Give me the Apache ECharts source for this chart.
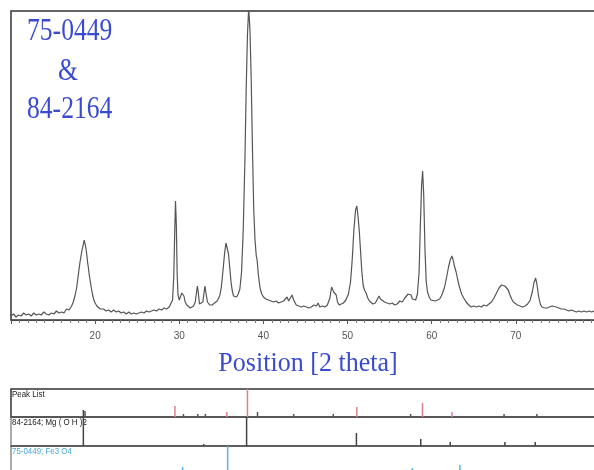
<!DOCTYPE html>
<html>
<head>
<meta charset="utf-8">
<script src="https://cdn.jsdelivr.net/npm/echarts@6/dist/echarts.min.js"></script>
<style>
  html, body { margin: 0; padding: 0; background: #fff; }
  #chart { width: 594px; height: 470px; }
</style>
</head>
<body>
<div id="chart"></div>
<script>
const pos2Theta = [
  10.0, 10.3, 10.6, 10.9, 11.2, 11.5, 11.8, 12.1, 12.4, 12.7, 13.0, 13.3, 13.6, 13.9, 14.2, 14.5, 14.8, 15.1, 15.4, 15.7,
  16.0, 16.3, 16.6, 16.9, 17.2, 17.4, 17.6, 17.8, 18.0, 18.2, 18.4, 18.55, 18.7, 18.8, 18.9, 19.0, 19.1, 19.2, 19.3, 19.4,
  19.55, 19.7, 19.85, 20.0, 20.2, 20.4, 20.6, 20.8, 21.0, 21.3, 21.6, 21.9, 22.2, 22.5, 22.8, 23.1, 23.4, 23.7, 24.0, 24.3,
  24.6, 24.9, 25.2, 25.5, 25.8, 26.1, 26.4, 26.7, 27.0, 27.3, 27.6, 27.9, 28.2, 28.5, 28.8, 29.0, 29.2, 29.35, 29.45, 29.55,
  29.65, 29.75, 29.85, 30.0, 30.15, 30.3, 30.4, 30.55, 30.7, 30.9, 31.1, 31.3, 31.5, 31.7, 31.9, 32.05, 32.15, 32.25, 32.4, 32.6,
  32.8, 32.95, 33.05, 33.15, 33.35, 33.6, 33.9, 34.2, 34.5, 34.8, 35.0, 35.2, 35.4, 35.55, 35.7, 35.85, 36.0, 36.15, 36.3, 36.45,
  36.6, 36.8, 37.0, 37.2, 37.4, 37.6, 37.8, 37.95, 38.1, 38.25, 38.4, 38.55, 38.7, 38.85, 39.0, 39.15, 39.25, 39.4, 39.6, 39.8,
  40.0, 40.3, 40.6, 40.9, 41.2, 41.5, 41.8, 42.1, 42.4, 42.6, 42.8, 43.0, 43.2, 43.4, 43.6, 43.9, 44.2, 44.5, 44.8, 45.1,
  45.4, 45.7, 46.0, 46.15, 46.3, 46.5, 46.7, 47.0, 47.3, 47.6, 47.9, 48.1, 48.2, 48.35, 48.5, 48.65, 48.8, 49.0, 49.2, 49.5,
  49.8, 50.1, 50.35, 50.55, 50.75, 50.95, 51.1, 51.25, 51.4, 51.55, 51.7, 51.85, 52.0, 52.2, 52.4, 52.6, 52.8, 53.0, 53.3, 53.55,
  53.75, 53.9, 54.1, 54.4, 54.7, 55.0, 55.3, 55.6, 55.9, 56.2, 56.5, 56.8, 57.0, 57.2, 57.4, 57.55, 57.7, 57.9, 58.1, 58.3,
  58.5, 58.65, 58.8, 58.92, 59.05, 59.2, 59.35, 59.5, 59.7, 59.9, 60.1, 60.4, 60.7, 60.95, 61.2, 61.5, 61.75, 62.0, 62.2, 62.4,
  62.55, 62.7, 62.9, 63.1, 63.3, 63.55, 63.8, 64.1, 64.4, 64.7, 65.0, 65.3, 65.6, 65.9, 66.2, 66.5, 66.8, 67.1, 67.4, 67.7,
  68.0, 68.3, 68.5, 68.7, 68.9, 69.1, 69.3, 69.5, 69.7, 69.9, 70.2, 70.5, 70.8, 71.1, 71.4, 71.7, 71.95, 72.15, 72.35, 72.5,
  72.7, 72.9, 73.1, 73.4, 73.7, 74.0, 74.3, 74.5, 74.8, 75.1, 75.4, 75.7, 76.0, 76.3, 76.6, 76.9, 77.2, 77.5, 77.8, 78.1,
  78.4, 78.7, 79.0, 79.3, 79.6, 79.9
];
const counts = [
  4, 6, 3, 5, 4, 7, 5, 6, 4, 7, 5, 6, 5, 8, 6, 5, 7, 6, 9, 7,
  8, 7, 11, 10, 14, 18, 24, 32, 45, 58, 68, 74, 80, 76, 72, 66, 58, 52, 45, 40,
  32, 25, 20, 17, 14, 12, 11, 9, 11, 9, 10, 8, 10, 8, 9, 7, 8, 6, 8, 6,
  7, 6, 7, 8, 7, 9, 8, 9, 10, 9, 11, 10, 12, 11, 13, 14, 20, 45, 85, 119,
  95, 45, 25, 20, 22, 27, 29, 24, 18, 15, 13, 12, 12, 14, 18, 28, 34, 28, 16, 14,
  18, 28, 34, 28, 18, 15, 15, 17, 19, 24, 33, 50, 68, 77, 75, 66, 52, 38, 29, 24,
  22, 23, 26, 31, 48, 90, 160, 230, 285, 312, 290, 240, 170, 110, 80, 64, 60, 45, 32, 26,
  23, 21, 20, 19, 18, 19, 17, 18, 19, 21, 23, 19, 22, 25, 20, 15, 14, 13, 14, 13,
  12, 13, 15, 17, 14, 17, 13, 14, 13, 15, 22, 33, 35, 28, 27, 25, 18, 15, 16, 17,
  20, 26, 38, 60, 90, 110, 114, 103, 88, 68, 48, 35, 30, 27, 22, 19, 17, 16, 17, 21,
  24, 21, 19, 18, 17, 16, 17, 15, 16, 19, 18, 22, 24, 26, 28, 25, 21, 19, 20, 26,
  48, 95, 135, 149, 125, 70, 38, 28, 23, 20, 18, 19, 20, 21, 25, 32, 42, 53, 60, 64,
  60, 54, 48, 40, 33, 26, 22, 18, 15, 13, 14, 13, 14, 13, 15, 14, 16, 18, 22, 27,
  32, 35, 36, 34, 33, 30, 25, 21, 18, 16, 15, 14, 13, 14, 16, 20, 28, 37, 42, 36,
  24, 16, 13, 12, 12, 13, 14, 15, 13, 12, 11, 11, 10, 9, 10, 9, 8, 9, 8, 9,
  8, 9, 8, 9, 8, 9
];

// peak list (row 1)
const peakPos = [29.58, 35.75, 38.2, 51.2, 59.0, 62.5];
const peakHeight = [11, 5, 28, 10, 14, 5];
const minorPeakPos = [18.7, 30.4, 32.1, 33.0, 39.2, 43.5, 48.2, 57.4, 68.5, 72.4];
const minorPeakHeight = [6, 3, 3, 3, 5, 3, 3, 3, 3, 3];

// 84-2164 Mg(OH)2 reference (row 2)
const mgPos = [18.6, 32.9, 38.0, 51.05, 58.7, 62.2, 68.7, 72.3];
const mgHeight = [36, 2, 29, 13, 7, 4, 4, 4];

// 75-0449 Fe3O4 reference (row 3)
const fePos = [30.4, 35.75, 57.7, 63.35];
const feHeight = [7, 28, 6, 9];

const xTicks = [20, 30, 40, 50, 60, 70];

const blue = '#3b4bd0';
const pair = (xs, ys) => xs.map((x, i) => [x, ys[i]]);

const chart = echarts.init(document.getElementById('chart'), null, { renderer: 'canvas' });

function stickAxis(idx) {
  return {
    type: 'value', gridIndex: idx, min: 10, max: 80,
    axisLine: { show: true, lineStyle: { color: '#555', width: 1.5 } },
    axisTick: { show: false },
    axisLabel: { show: false },
    splitLine: { show: false }
  };
}

function sticks(idx, data, color) {
  return {
    type: 'bar', xAxisIndex: idx, yAxisIndex: idx,
    data: data, barWidth: 1.5, clip: false,
    itemStyle: { color: color },
    silent: true
  };
}

function box(top, height, color, width) {
  return {
    left: 11, top: top, width: 589, height: height,
    outerBoundsMode: 'none', containLabel: false,
    show: true, borderColor: color, borderWidth: width
  };
}

const options = {
  animation: false,
  backgroundColor: '#fff',
  grid: [
    box(11, 309, '#333', 1.5),
    box(389, 28, '#333', 1.5),
    box(417, 29, '#555', 1),
    box(446, 28, '#555', 1)
  ],
  xAxis: [
    {
      type: 'value', gridIndex: 0, min: 10, max: 80, interval: 10,
      axisLine: { show: true, lineStyle: { color: '#444', width: 1 } },
      axisTick: { show: true, length: 4, lineStyle: { color: '#555' } },
      minorTick: { show: true, splitNumber: 10, length: 3, lineStyle: { color: '#777' } },
      axisLabel: {
        margin: 11, fontSize: 10, color: '#555', fontFamily: 'Liberation Sans',
        formatter: v => xTicks.includes(v) ? String(v) : ''
      },
      splitLine: { show: false }
    },
    stickAxis(1), stickAxis(2), stickAxis(3)
  ],
  yAxis: [
    { type: 'value', gridIndex: 0, min: 0, max: 309, show: false },
    { type: 'value', gridIndex: 1, min: 0, max: 28, show: false },
    { type: 'value', gridIndex: 2, min: 0, max: 29, show: false },
    { type: 'value', gridIndex: 3, min: 0, max: 28, show: false }
  ],
  series: [
    {
      type: 'line', xAxisIndex: 0, yAxisIndex: 0,
      data: pair(pos2Theta, counts),
      showSymbol: false, clip: true,
      lineStyle: { color: '#555', width: 1.2 }
    },
    sticks(1, pair(peakPos, peakHeight), '#e07f8c'),
    sticks(1, pair(minorPeakPos, minorPeakHeight), '#555'),
    sticks(2, pair(mgPos, mgHeight), '#444'),
    sticks(3, pair(fePos, feHeight), '#5ab2e0')
  ],
  graphic: [
    { type: 'text', x: 27, y: 32, scaleX: 0.8, silent: true,
      style: { text: '75-0449', fontSize: 32, fontFamily: 'Liberation Serif', fill: blue, verticalAlign: 'middle' } },
    { type: 'text', x: 68, y: 72, scaleX: 0.8, silent: true,
      style: { text: '&', fontSize: 32, fontFamily: 'Liberation Serif', fill: blue, align: 'center', verticalAlign: 'middle' } },
    { type: 'text', x: 27, y: 110, scaleX: 0.8, silent: true,
      style: { text: '84-2164', fontSize: 32, fontFamily: 'Liberation Serif', fill: blue, verticalAlign: 'middle' } },
    { type: 'text', x: 308, y: 364, scaleX: 0.93, silent: true,
      style: { text: 'Position [2 theta]', fontSize: 28, fontFamily: 'Liberation Serif', fill: blue, align: 'center', verticalAlign: 'middle' } },
    { type: 'text', x: 12, y: 395, scaleX: 0.88, silent: true,
      style: { text: 'Peak List', fontSize: 9, fontFamily: 'Liberation Sans', fill: '#222', verticalAlign: 'middle' } },
    { type: 'text', x: 12, y: 423, scaleX: 0.88, silent: true,
      style: { text: '84-2164; Mg ( O H )2', fontSize: 9, fontFamily: 'Liberation Sans', fill: '#222', verticalAlign: 'middle' } },
    { type: 'text', x: 12, y: 452, scaleX: 0.88, silent: true,
      style: { text: '75-0449; Fe3 O4', fontSize: 9, fontFamily: 'Liberation Sans', fill: '#4aa8dd', verticalAlign: 'middle' } }
  ]
};

chart.setOption(options);
</script>
</body>
</html>
